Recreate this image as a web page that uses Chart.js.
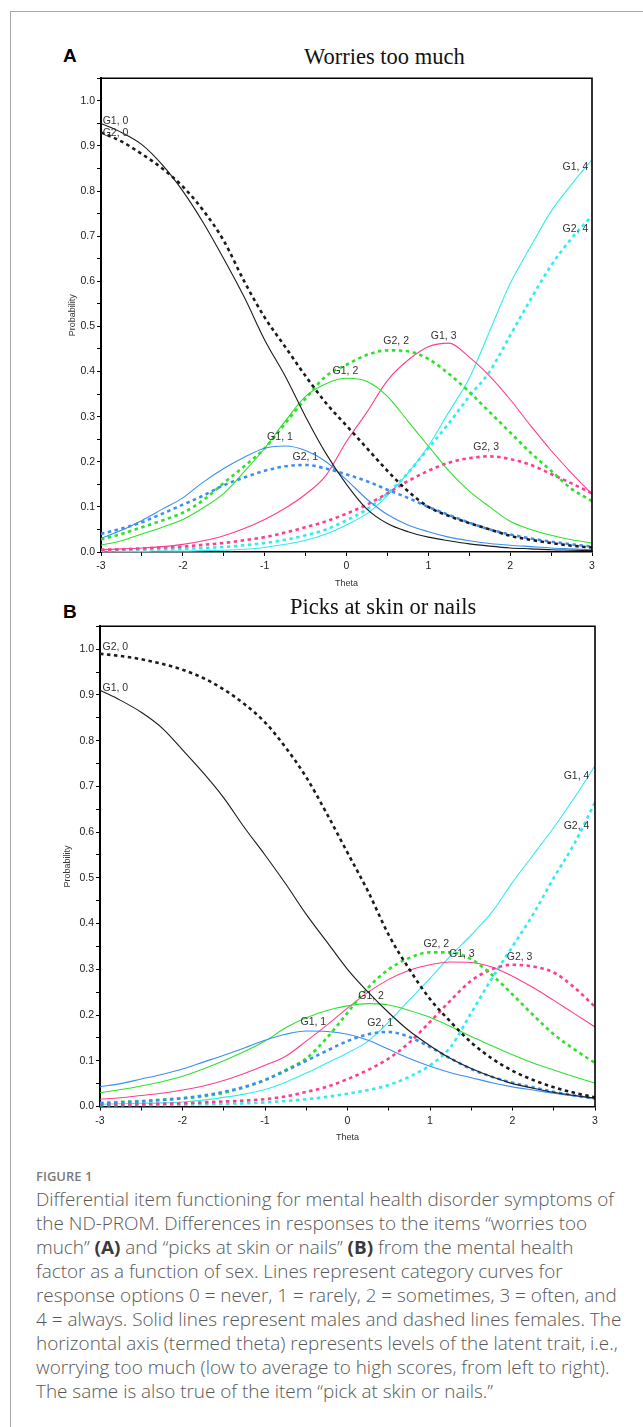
<!DOCTYPE html>
<html><head><meta charset="utf-8">
<script src="https://cdn.jsdelivr.net/npm/chart.js@4.4.1/dist/chart.umd.min.js"></script>
<style>
html,body{margin:0;padding:0;background:#fff;}
#page{position:relative;width:643px;height:1427px;overflow:hidden;background:#fff;}
#frame{position:absolute;left:10px;top:11px;width:800px;height:1600px;border-left:1px solid #a8a8a8;border-top:1px solid #a8a8a8;}
.plab{position:absolute;left:63px;font-family:"Liberation Sans",Arial,sans-serif;font-weight:bold;font-size:19px;line-height:20px;color:#000;}
.ptitle{position:absolute;font-family:"Liberation Serif","Times New Roman",serif;font-size:22.5px;line-height:26px;color:#111;white-space:nowrap;}
canvas{position:absolute;left:0;}
#fig{position:absolute;left:36px;top:1168px;font-family:"Open Sans",sans-serif;font-weight:600;font-size:13px;line-height:16px;color:#7a7a7a;}
#cap{position:absolute;left:36px;top:1187px;font-family:"Open Sans",sans-serif;font-weight:300;font-size:18px;line-height:24px;color:#585858;transform-origin:0 0;white-space:nowrap;}
#cap b{color:#3a3a3a;font-weight:700;}
</style></head>
<body><div id="page">
<div id="frame"></div>
<div class="plab" style="top:46px">A</div>
<div class="ptitle" style="top:44px;left:304px">Worries too much</div>
<canvas id="cA" width="643" height="530" style="top:70px;width:643px;height:530px"></canvas>
<div class="plab" style="top:602px">B</div>
<div class="ptitle" style="top:594px;left:290px">Picks at skin or nails</div>
<canvas id="cB" width="643" height="530" style="top:618px;width:643px;height:530px"></canvas>
<div id="fig">FIGURE 1</div>
<div id="cap">
<div><span id="l1">Differential item functioning for mental health disorder symptoms of</span></div>
<div>the ND-PROM. Differences in responses to the items “worries too</div>
<div>much” <b>(A)</b> and “picks at skin or nails” <b>(B)</b> from the mental health</div>
<div>factor as a function of sex. Lines represent category curves for</div>
<div>response options 0 = never, 1 = rarely, 2 = sometimes, 3 = often, and</div>
<div>4 = always. Solid lines represent males and dashed lines females. The</div>
<div>horizontal axis (termed theta) represents levels of the latent trait, i.e.,</div>
<div>worrying too much (low to average to high scores, from left to right).</div>
<div>The same is also true of the item “pick at skin or nails.”</div>
</div>
</div>
<script>
// Theta grid (x categories)
const thetas = [-3,-2.75,-2.5,-2.25,-2,-1.75,-1.5,-1.25,-1,-0.75,-0.5,-0.25,0,0.25,0.5,0.75,1,1.25,1.5,1.75,2,2.25,2.5,2.75,3];

// Panel A: Worries too much
const a_g1_0 = [0.95,0.93,0.903,0.858,0.80,0.73,0.65,0.565,0.47,0.39,0.30,0.218,0.15,0.095,0.063,0.045,0.033,0.025,0.018,0.013,0.009,0.007,0.005,0.004,0.003];
const a_g2_0 = [0.93,0.91,0.882,0.85,0.81,0.757,0.69,0.60,0.52,0.455,0.39,0.33,0.28,0.23,0.18,0.135,0.10,0.08,0.064,0.05,0.036,0.027,0.02,0.014,0.01];
const a_g1_1 = [0.03,0.048,0.07,0.095,0.12,0.155,0.185,0.21,0.23,0.235,0.225,0.20,0.16,0.117,0.083,0.06,0.045,0.033,0.025,0.019,0.015,0.012,0.009,0.007,0.005];
const a_g2_1 = [0.04,0.052,0.066,0.085,0.105,0.125,0.148,0.165,0.18,0.19,0.193,0.185,0.172,0.157,0.138,0.12,0.10,0.082,0.065,0.05,0.039,0.03,0.023,0.017,0.012];
const a_g1_2 = [0.015,0.025,0.04,0.055,0.072,0.098,0.13,0.178,0.23,0.29,0.345,0.373,0.385,0.378,0.345,0.29,0.235,0.18,0.135,0.10,0.068,0.05,0.037,0.027,0.02];
const a_g2_2 = [0.028,0.04,0.055,0.07,0.087,0.115,0.153,0.19,0.23,0.285,0.34,0.39,0.415,0.437,0.447,0.445,0.428,0.395,0.355,0.31,0.265,0.22,0.18,0.14,0.113];
const a_g1_3 = [0.005,0.007,0.009,0.012,0.017,0.025,0.036,0.052,0.072,0.097,0.128,0.17,0.245,0.31,0.38,0.425,0.455,0.463,0.432,0.39,0.338,0.28,0.225,0.175,0.128];
const a_g2_3 = [0.005,0.006,0.008,0.01,0.012,0.016,0.02,0.026,0.033,0.043,0.055,0.068,0.085,0.105,0.13,0.157,0.18,0.198,0.208,0.212,0.206,0.193,0.173,0.152,0.13];
const a_g1_4 = [0.0,0.001,0.001,0.002,0.002,0.003,0.004,0.006,0.01,0.017,0.026,0.04,0.06,0.085,0.125,0.175,0.235,0.31,0.385,0.49,0.595,0.677,0.755,0.815,0.87];
const a_g2_4 = [0.003,0.004,0.005,0.006,0.007,0.009,0.011,0.015,0.02,0.027,0.037,0.05,0.07,0.095,0.13,0.175,0.23,0.285,0.345,0.40,0.48,0.56,0.635,0.695,0.745];

// Panel B: Picks at skin or nails
const b_g1_0 = [0.91,0.888,0.862,0.828,0.78,0.73,0.675,0.61,0.55,0.487,0.42,0.36,0.30,0.25,0.205,0.165,0.133,0.105,0.083,0.065,0.05,0.04,0.031,0.024,0.018];
const b_g2_0 = [0.99,0.985,0.978,0.968,0.955,0.937,0.912,0.88,0.84,0.785,0.72,0.64,0.555,0.47,0.375,0.30,0.235,0.185,0.14,0.105,0.078,0.058,0.042,0.03,0.02];
const b_g1_1 = [0.043,0.05,0.06,0.07,0.082,0.097,0.112,0.128,0.145,0.158,0.165,0.164,0.158,0.145,0.125,0.105,0.088,0.074,0.063,0.052,0.043,0.036,0.029,0.023,0.018];
const b_g2_1 = [0.007,0.009,0.011,0.014,0.018,0.024,0.032,0.043,0.058,0.078,0.10,0.122,0.143,0.158,0.163,0.152,0.13,0.105,0.082,0.065,0.052,0.042,0.032,0.024,0.017];
const b_g1_2 = [0.03,0.037,0.045,0.054,0.066,0.082,0.10,0.12,0.143,0.172,0.194,0.21,0.22,0.225,0.222,0.21,0.195,0.175,0.153,0.133,0.113,0.095,0.08,0.065,0.051];
const b_g2_2 = [0.008,0.01,0.012,0.015,0.018,0.022,0.03,0.042,0.058,0.08,0.105,0.15,0.205,0.26,0.30,0.325,0.337,0.337,0.322,0.288,0.245,0.20,0.158,0.125,0.095];
const b_g1_3 = [0.016,0.019,0.024,0.029,0.036,0.045,0.057,0.072,0.09,0.11,0.143,0.178,0.215,0.25,0.278,0.298,0.31,0.316,0.315,0.305,0.285,0.26,0.232,0.203,0.174];
const b_g2_3 = [0.004,0.004,0.005,0.006,0.007,0.009,0.011,0.013,0.016,0.022,0.032,0.043,0.06,0.08,0.105,0.14,0.185,0.232,0.275,0.30,0.31,0.306,0.293,0.26,0.218];
const b_g1_4 = [0.005,0.006,0.007,0.008,0.01,0.014,0.02,0.027,0.037,0.053,0.073,0.095,0.117,0.143,0.185,0.233,0.28,0.33,0.375,0.425,0.49,0.55,0.61,0.675,0.745];
const b_g2_4 = [0.002,0.002,0.003,0.003,0.004,0.005,0.006,0.007,0.009,0.012,0.016,0.021,0.028,0.036,0.047,0.065,0.09,0.13,0.205,0.28,0.35,0.42,0.50,0.575,0.665];

// Curve labels: [text, theta, probability]
const labelsA = [['G1, 0',-2.98,0.955],['G2, 0',-2.98,0.928],['G1, 1',-0.97,0.255],['G2, 1',-0.66,0.21],['G1, 2',-0.17,0.401],['G2, 2',0.45,0.468],['G1, 3',1.03,0.479],['G2, 3',1.55,0.233],['G1, 4',2.64,0.853],['G2, 4',2.64,0.716]];
const labelsB = [['G2, 0',-2.97,1.005],['G1, 0',-2.97,0.915],['G1, 1',-0.57,0.185],['G2, 1',0.24,0.183],['G1, 2',0.13,0.242],['G2, 2',0.92,0.355],['G1, 3',1.23,0.333],['G2, 3',1.93,0.327],['G1, 4',2.62,0.723],['G2, 4',2.62,0.613]];

const COL = ['#1c1c1c','#3b8ff0','#2fe02f','#ff3d8e','#30ecf0'];
const FONT = '"Liberation Sans", Arial, sans-serif';

function pts(arr){ return thetas.map((t,i)=>({x:t,y:arr[i]})); }
function ds(arr,ci,dashed){
  return {data:pts(arr),borderColor:COL[ci],borderWidth:dashed?2.6:1.1,borderDash:dashed?[3.5,3.5]:[],
    pointRadius:0,cubicInterpolationMode:'monotone',fill:false};
}
const framePlugin = {id:'frame',afterDraw(chart){
  const {ctx,chartArea:a}=chart; ctx.save(); ctx.strokeStyle='#000'; ctx.lineWidth=1.6;
  ctx.beginPath(); ctx.moveTo(a.left,a.top); ctx.lineTo(a.right,a.top); ctx.lineTo(a.right,a.bottom); ctx.stroke(); ctx.restore();
}};
function labelPlugin(list){ return {id:'glabels',afterDatasetsDraw(chart){
  const {ctx,scales:{x,y}}=chart; ctx.save(); ctx.font='10.5px '+FONT;
  ctx.fillStyle='#333'; ctx.textAlign='left'; ctx.textBaseline='middle';
  list.forEach(l=>ctx.fillText(l[0],x.getPixelForValue(l[1]),y.getPixelForValue(l[2])));
  ctx.restore();
}};}

function makeChart(id,datasets,labels,g){
  return new Chart(document.getElementById(id),{
    type:'line',
    data:{datasets},
    options:{
      responsive:false,animation:false,devicePixelRatio:1,
      layout:{padding:{top:g.top,right:g.right,left:0,bottom:0}},
      plugins:{legend:{display:false},tooltip:{enabled:false}},
      scales:{
        x:{type:'linear',min:-3,max:3,
          ticks:{stepSize:0.5,autoSkip:false,maxRotation:0,color:'#222',padding:4,
            font:{family:FONT,size:10.5},
            callback:v=>Math.abs(v-Math.round(v))<1e-6?String(Math.round(v)):''},
          grid:{drawOnChartArea:false,drawTicks:true,tickLength:4,color:'#000'},
          border:{display:true,color:'#000',width:1.5},
          title:{display:true,text:'Theta',color:'#333',font:{family:FONT,size:9},padding:{top:0,bottom:g.thetaPad}},
          afterFit:s=>{s.height=g.xh;}
        },
        y:{type:'linear',min:0,max:1.05,
          ticks:{stepSize:0.05,autoSkip:false,color:'#222',padding:2,
            font:{family:FONT,size:10.5},
            callback:v=>(Math.abs(v*10-Math.round(v*10))<1e-6&&v<1.0001)?v.toFixed(1):''},
          grid:{drawOnChartArea:false,drawTicks:true,tickLength:4,color:'#000'},
          border:{display:true,color:'#000',width:2},
          title:{display:true,text:'Probability',color:'#333',font:{family:FONT,size:9},padding:{top:g.probPad,bottom:0}},
          afterFit:s=>{s.width=g.yw;}
        }
      }
    },
    plugins:[framePlugin,labelPlugin(labels)]
  });
}

function build(){
  makeChart('cA',[
    ds(a_g1_0,0,false),ds(a_g2_0,0,true),
    ds(a_g1_1,1,false),ds(a_g2_1,1,true),
    ds(a_g1_2,2,false),ds(a_g2_2,2,true),
    ds(a_g1_3,3,false),ds(a_g2_3,3,true),
    ds(a_g1_4,4,false),ds(a_g2_4,4,true)
  ],labelsA,{top:8,right:51,yw:101,xh:48,thetaPad:10.6,probPad:67});
  makeChart('cB',[
    ds(b_g1_0,0,false),ds(b_g2_0,0,true),
    ds(b_g1_1,1,false),ds(b_g2_1,1,true),
    ds(b_g1_2,2,false),ds(b_g2_2,2,true),
    ds(b_g1_3,3,false),ds(b_g2_3,3,true),
    ds(b_g1_4,4,false),ds(b_g2_4,4,true)
  ],labelsB,{top:8,right:48,yw:100,xh:41.5,thetaPad:4.6,probPad:62.6});
  const w=document.getElementById('l1').getBoundingClientRect().width;
  if(w>0) document.getElementById('cap').style.transform='scaleX('+(578/w)+')';
}
build();
</script>
</body></html>
